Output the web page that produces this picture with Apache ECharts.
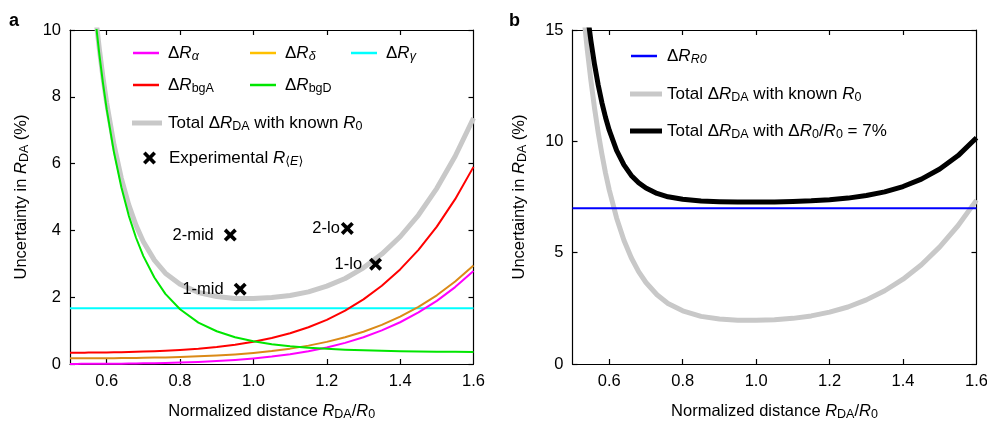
<!DOCTYPE html>
<html>
<head>
<meta charset="utf-8">
<script src="https://cdn.jsdelivr.net/npm/echarts@6/dist/echarts.min.js"></script>
<style>html,body{margin:0;padding:0;background:#fff}#c{width:987px;height:421px}</style>
</head>
<body>
<div id="c"></div>
<script>
// ---- data ----
const xs = [0.50,0.51,0.52,0.53,0.54,0.55,0.56,0.57,0.58,0.59,0.60,0.62,0.64,0.66,0.68,0.70,0.73,0.76,0.80,0.85,0.90,0.95,1.00,1.05,1.10,1.15,1.20,1.25,1.30,1.35,1.40,1.45,1.50,1.55,1.60];
const dRalpha = [0.003,0.003,0.003,0.004,0.004,0.005,0.005,0.006,0.006,0.007,0.008,0.009,0.011,0.014,0.016,0.020,0.025,0.032,0.044,0.063,0.088,0.122,0.166,0.222,0.294,0.384,0.496,0.633,0.801,1.005,1.250,1.543,1.891,2.302,2.785];
const dRdelta = [0.169,0.169,0.169,0.170,0.170,0.171,0.171,0.172,0.172,0.173,0.174,0.175,0.177,0.180,0.182,0.186,0.191,0.198,0.210,0.229,0.254,0.288,0.332,0.388,0.460,0.550,0.662,0.799,0.967,1.171,1.416,1.709,2.057,2.468,2.951];
const dRbgA = [0.337,0.338,0.339,0.339,0.340,0.341,0.342,0.343,0.345,0.346,0.347,0.351,0.355,0.359,0.365,0.371,0.382,0.396,0.419,0.457,0.508,0.576,0.664,0.777,0.920,1.100,1.323,1.599,1.935,2.342,2.832,3.418,4.114,4.936,5.902];
const dRbgD = [22.10,19.66,17.54,15.68,14.05,12.62,11.36,10.25,9.27,8.40,7.63,6.33,5.29,4.45,3.78,3.23,2.59,2.10,1.64,1.24,0.98,0.80,0.68,0.594,0.532,0.487,0.454,0.429,0.410,0.396,0.385,0.377,0.370,0.365,0.360];
const totalKnown = [22.17,19.73,17.62,15.77,14.15,12.74,11.49,10.39,9.43,8.57,7.82,6.56,5.56,4.77,4.15,3.66,3.11,2.72,2.39,2.14,2.02,1.96,1.96,1.99,2.05,2.16,2.33,2.56,2.88,3.29,3.81,4.46,5.26,6.22,7.36];
const totalWithR0 = [23.24,20.94,18.96,17.26,15.79,14.53,13.45,12.53,11.74,11.07,10.50,9.59,8.94,8.47,8.14,7.90,7.66,7.51,7.40,7.32,7.29,7.27,7.27,7.28,7.30,7.33,7.38,7.45,7.57,7.73,7.97,8.30,8.76,9.36,10.16];
const gammaX = [0.5, 1.6];
const gammaY = [1.67, 1.67];
const r0X = [0.5, 1.6];
const r0Y = [7.0, 7.0];
const expNames = ['2-mid','1-mid','2-lo','1-lo'];
const expX = [0.937, 0.964, 1.256, 1.333];
const expY = [3.86, 2.24, 4.06, 2.99];
// tick positions along x (0.5 .. 1.6 by 0.1); labels shown on every other one
const xTickCats = ['0.5','0.6','0.7','0.8','0.9','1.0','1.1','1.2','1.3','1.4','1.5','1.6'];

// ---- styling ----
const F = '"Liberation Sans", Arial, Helvetica, "DejaVu Sans", sans-serif';
const TXT = '#000';
function rich(main, sub) {
  return {
    n: {fontSize: main, lineHeight: 20, fontFamily: F, color: TXT},
    i: {fontSize: main, lineHeight: 20, fontFamily: F, color: TXT, fontStyle: 'italic'},
    s: {fontSize: sub, lineHeight: 8, verticalAlign: 'bottom', fontFamily: F, color: TXT},
    si: {fontSize: sub, lineHeight: 8, verticalAlign: 'bottom', fontFamily: F, color: TXT, fontStyle: 'italic'}
  };
}
const labelsFmt = {
  dRa: '{n|Δ}{i|R}{si|α}',
  dRd: '{n|Δ}{i|R}{si|δ}',
  dRg: '{n|Δ}{i|R}{si|γ}',
  dRbgA: '{n|Δ}{i|R}{s|bgA}',
  dRbgD: '{n|Δ}{i|R}{s|bgD}',
  totA: '{n|Total Δ}{i|R}{s|DA}{n| with known }{i|R}{s|0}',
  exp: '{n|Experimental }{i|R}{s|⟨}{si|E}{s|⟩}',
  dRR0: '{n|Δ}{i|R}{si|R0}',
  totB: '{n|Total Δ}{i|R}{s|DA}{n| with known }{i|R}{s|0}',
  totC: '{n|Total Δ}{i|R}{s|DA}{n| with Δ}{i|R}{s|0}{n|/}{i|R}{s|0}{n| = 7%}'
};
const XPATH = 'path://M2,0 L5,3 L8,0 L10,2 L7,5 L10,8 L8,10 L5,7 L2,10 L0,8 L3,5 L0,2 Z';

function legend(name, left, cy, w, h, padLeft, extra) {
  return {
    data: [Object.assign({name: name}, extra || {})],
    left: left, top: cy - 7.5, padding: 0,
    icon: 'rect', itemWidth: w, itemHeight: h,
    selectedMode: false,
    formatter: n => labelsFmt[n],
    textStyle: {rich: rich(17, 12.5), padding: [0, 0, 0, padLeft]}
  };
}

const pts = ys => xs.map((x, i) => [x, ys[i]]);
const zip = (a, b) => a.map((x, i) => [x, b[i]]);
const AX = {color: '#000', width: 1.2};
const evenTick = i => i % 2 === 1 && i < xTickCats.length - 1;
const evenLabel = i => i % 2 === 1;

function xAxes(grid) {
  return [{
    // data axis (scale only)
    type: 'value', gridIndex: grid, min: 0.5, max: 1.6, position: 'bottom', show: false
  }, {
    type: 'category', gridIndex: grid, data: xTickCats, boundaryGap: false, position: 'bottom',
    axisLine: {show: true, onZero: false, lineStyle: AX},
    axisTick: {show: true, inside: true, length: 5, interval: evenTick, lineStyle: AX},
    axisLabel: {interval: evenLabel, fontSize: 16.5, fontFamily: F, color: TXT, margin: 9},
    splitLine: {show: false},
    name: '{n|Normalized distance }{i|R}{s|DA}{n|/}{i|R}{s|0}',
    nameLocation: 'middle', nameGap: 37,
    nameTextStyle: {rich: rich(16.5, 12.5)}
  }, {
    type: 'category', gridIndex: grid, data: xTickCats, boundaryGap: false, position: 'top',
    axisLine: {show: true, onZero: false, lineStyle: AX},
    axisTick: {show: true, inside: true, length: 5, interval: evenTick, lineStyle: AX},
    axisLabel: {show: false}, splitLine: {show: false}
  }];
}
function yAxes(grid, max, interval, gap) {
  return [{
    type: 'value', gridIndex: grid, min: 0, max: max, interval: interval, position: 'left',
    axisLine: {show: true, onZero: false, lineStyle: AX},
    axisTick: {show: true, inside: true, length: 5, lineStyle: AX},
    axisLabel: {fontSize: 16.5, fontFamily: F, color: TXT, margin: 9},
    splitLine: {show: false},
    name: '{n|Uncertainty in }{i|R}{s|DA}{n| (%)}',
    nameLocation: 'middle', nameGap: gap, nameRotate: 90,
    nameTextStyle: {rich: rich(16.5, 12.5)}
  }, {
    type: 'value', gridIndex: grid, min: 0, max: max, interval: interval, position: 'right',
    axisLine: {show: true, onZero: false, lineStyle: AX},
    axisTick: {show: true, inside: true, length: 5, lineStyle: AX},
    axisLabel: {show: false}, splitLine: {show: false}
  }];
}
function line(name, data, color, width, xi, yi, z) {
  return {
    type: 'line', name: name, data: data, xAxisIndex: xi, yAxisIndex: yi,
    showSymbol: false, symbol: 'none', smooth: false, clip: true, z: z,
    color: color, lineStyle: {color: color, width: width, join: 'round'}, emphasis: {disabled: true}
  };
}

const labelDist = [10, 10, 1, 7];
const option = {
  animation: false,
  backgroundColor: '#fff',
  title: [
    {text: 'a', left: 9, top: 11, padding: 0, textStyle: {fontSize: 18, fontWeight: 'bold', fontFamily: F, color: '#000', lineHeight: 20}},
    {text: 'b', left: 509, top: 11, padding: 0, textStyle: {fontSize: 18, fontWeight: 'bold', fontFamily: F, color: '#000', lineHeight: 20}}
  ],
  grid: [
    {left: 70, top: 30, width: 403.5, height: 334, outerBoundsMode: 'none', containLabel: false},
    {left: 572.5, top: 30, width: 404, height: 334, outerBoundsMode: 'none', containLabel: false}
  ],
  xAxis: [...xAxes(0), ...xAxes(1)],
  yAxis: [...yAxes(0, 10, 2, 39), ...yAxes(1, 15, 5, 43)],
  legend: [
    legend('dRa', 133, 52, 26, 2.5, 4),
    legend('dRd', 250, 52, 26, 2.5, 4, {itemStyle: {color: '#FFC000'}}),
    legend('dRg', 351, 52, 26, 2.5, 4),
    legend('dRbgA', 133, 84, 26, 2.5, 4),
    legend('dRbgD', 250, 84, 26, 2.5, 4),
    legend('totA', 132, 122, 30, 5, 1),
    Object.assign(legend('exp', 143, 157, 13, 13, 8), {icon: XPATH}),
    legend('dRR0', 631, 55, 26, 2.5, 5),
    legend('totB', 630, 93, 32, 5, 0),
    legend('totC', 630, 130, 32, 5, 0)
  ],
  series: [
    line('totA', pts(totalKnown), '#C8C8C8', 5, 0, 0, 1),
    line('dRg', zip(gammaX, gammaY), '#00FFFF', 2, 0, 0, 2),
    line('dRa', pts(dRalpha), '#FF00FF', 2, 0, 0, 3),
    line('dRd', pts(dRdelta), '#DB8A17', 2, 0, 0, 4),
    line('dRbgA', pts(dRbgA), '#FF0000', 2, 0, 0, 5),
    line('dRbgD', pts(dRbgD), '#00E600', 2, 0, 0, 6),
    {
      type: 'scatter', name: 'exp', xAxisIndex: 0, yAxisIndex: 0, z: 10,
      symbol: XPATH, symbolSize: 13, color: '#000',
      itemStyle: {color: '#000', opacity: 1},
      emphasis: {disabled: true},
      label: {show: true, position: 'left', formatter: '{b}', fontSize: 16.5, fontFamily: F,
              color: '#000', opacity: 1, textBorderWidth: 0},
      data: expNames.map((n, i) => ({
        name: n, value: [expX[i], expY[i]],
        label: {distance: labelDist[i]}
      }))
    },
    line('totB', pts(totalKnown), '#C8C8C8', 5, 3, 2, 1),
    line('totC', pts(totalWithR0), '#000000', 5, 3, 2, 2),
    line('dRR0', zip(r0X, r0Y), '#0000FF', 2, 3, 2, 3)
  ]
};
const chart = echarts.init(document.getElementById('c'), null, {renderer: 'canvas'});
chart.setOption(option);
</script>
</body>
</html>
